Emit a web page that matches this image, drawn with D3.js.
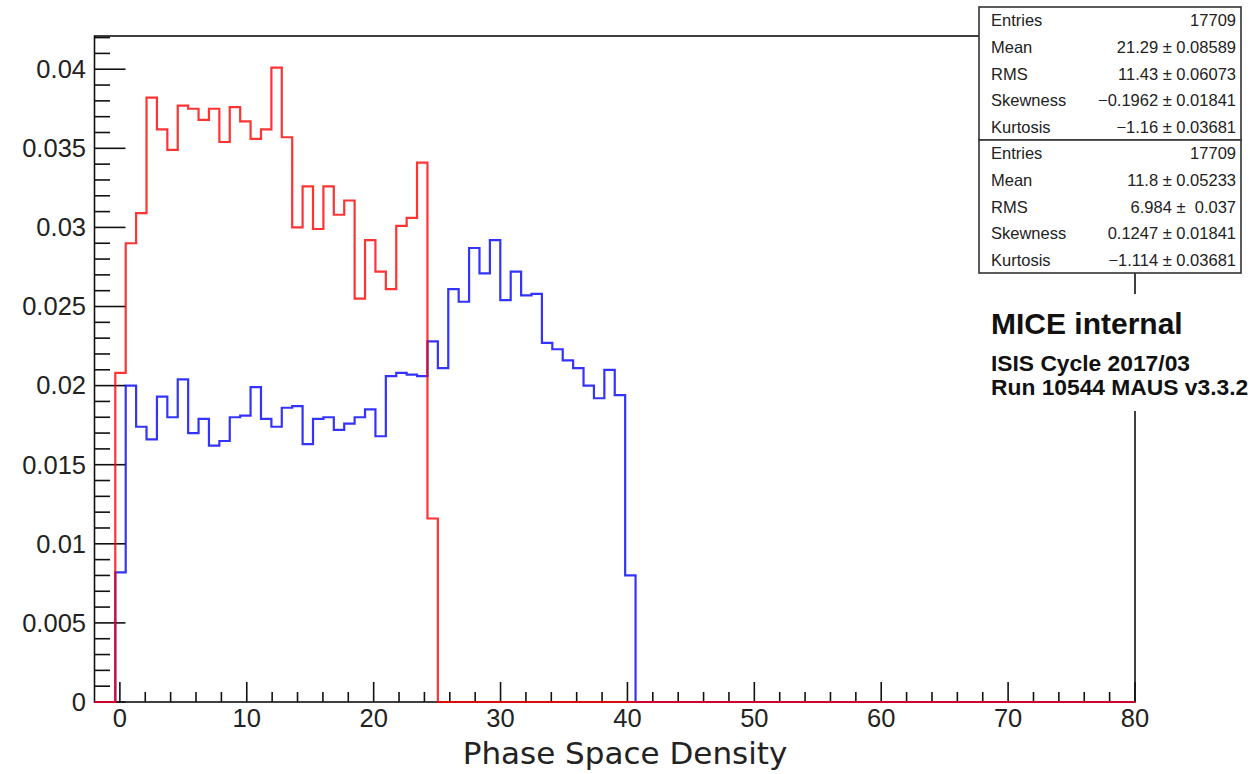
<!DOCTYPE html>
<html>
<head>
<meta charset="utf-8">
<script src="https://cdn.jsdelivr.net/npm/d3@7"></script>
<style>
  html, body { margin: 0; padding: 0; background: #fff; }
  svg { display: block; }
  text { white-space: pre; }
</style>
</head>
<body>
<svg id="chart" width="1254" height="774"></svg>
<script>
// Histogram binning: 100 equal bins over the x range
const xRange = [-2, 80];
const nBins = 100;
const firstFilledBin = 2;      // 0-based index of the first non-empty bin

// Normalised bin contents (from the first filled bin onward)
const densityRed = [
  0.0208, 0.0290, 0.0309, 0.0382, 0.0362, 0.0349, 0.0377, 0.0375, 0.0368, 0.0375,
  0.0354, 0.0376, 0.0367, 0.0356, 0.0362, 0.0401, 0.0357, 0.0300, 0.0326, 0.0299,
  0.0326, 0.0308, 0.0317, 0.0255, 0.0292, 0.0272, 0.0261, 0.0301, 0.0306, 0.0341,
  0.0116
];
const densityBlue = [
  0.0082, 0.0200, 0.0174, 0.0166, 0.0193, 0.0180, 0.0204, 0.0170, 0.0179, 0.0162,
  0.0165, 0.0180, 0.0181, 0.0199, 0.0179, 0.0174, 0.0186, 0.0187, 0.0163, 0.0179,
  0.0180, 0.0172, 0.0176, 0.0180, 0.0185, 0.0168, 0.0206, 0.0208, 0.0207, 0.0206,
  0.0228, 0.0211, 0.0261, 0.0253, 0.0287, 0.0271, 0.0292, 0.0254, 0.0272, 0.0257,
  0.0258, 0.0227, 0.0223, 0.0216, 0.0211, 0.0200, 0.0192, 0.0210, 0.0194, 0.0080
];

const yMax = 0.0421;
const xTickValues = [0, 10, 20, 30, 40, 50, 60, 70, 80];
const xTickLabels = ["0", "10", "20", "30", "40", "50", "60", "70", "80"];
const yTickValues = [0, 0.005, 0.01, 0.015, 0.02, 0.025, 0.03, 0.035, 0.04];
const yTickLabels = ["0", "0.005", "0.01", "0.015", "0.02", "0.025", "0.03", "0.035", "0.04"];
const xAxisTitle = "Phase Space Density";

// Statistics boxes (upper one belongs to the blue histogram)
const statsNames = ["Entries", "Mean", "RMS", "Skewness", "Kurtosis"];
const statsBlue = ["17709", "21.29 \u00b1 0.08589", "11.43 \u00b1 0.06073", "\u22120.1962 \u00b1 0.01841", "\u22121.16 \u00b1 0.03681"];
const statsRed  = ["17709", "11.8 \u00b1 0.05233", "6.984 \u00b1  0.037", "0.1247 \u00b1 0.01841", "\u22121.114 \u00b1 0.03681"];

const labelLines = ["MICE internal", "ISIS Cycle 2017/03", "Run 10544 MAUS v3.3.2"];

// ---------------------------------------------------------------
const svg = d3.select("#chart");
const frame = { left: 94.5, right: 1135, top: 36, bottom: 702 };

const x = d3.scaleLinear().domain(xRange).range([frame.left, frame.right]);
const y = d3.scaleLinear().domain([0, yMax]).range([frame.bottom, frame.top]);

const binWidth = (xRange[1] - xRange[0]) / nBins;

function fullContents(filled) {
  const c = new Array(nBins).fill(0);
  filled.forEach((v, i) => { c[firstFilledBin + i] = v; });
  return c;
}

function histPoints(contents) {
  const pts = [[xRange[0], 0]];
  contents.forEach((v, i) => {
    const lo = xRange[0] + i * binWidth;
    pts.push([lo, v], [lo + binWidth, v]);
  });
  pts.push([xRange[1], 0]);
  return pts;
}

const line = d3.line().x(d => x(d[0])).y(d => y(d[1]));

// frame
svg.append("rect")
  .attr("x", frame.left).attr("y", frame.top)
  .attr("width", frame.right - frame.left).attr("height", frame.bottom - frame.top)
  .attr("fill", "none").attr("stroke", "#111").attr("stroke-width", 1.6);

// x axis ticks
const xMinor = d3.range(0, 80.001, 2);
const ax = svg.append("g").attr("stroke", "#111").attr("stroke-width", 1.6);
ax.selectAll("line.xminor").data(xMinor).join("line")
  .attr("x1", d => x(d)).attr("x2", d => x(d))
  .attr("y1", frame.bottom).attr("y2", d => frame.bottom - (d % 10 === 0 ? 20 : 10));
// y axis ticks
const yMinor = d3.range(0, 42.5).map(i => i * 0.001).filter(v => v <= yMax);
ax.selectAll("line.yminor").data(yMinor).join("line")
  .attr("y1", d => y(d)).attr("y2", d => y(d))
  .attr("x1", frame.left).attr("x2", (d, i) => frame.left + (i % 5 === 0 ? 31 : 15.5));

// tick labels
svg.append("g").selectAll("text").data(xTickValues).join("text")
  .attr("x", d => x(d)).attr("y", frame.bottom + 25)
  .attr("text-anchor", "middle")
  .attr("font-family", "Liberation Sans, Arial, sans-serif").attr("font-size", 25.5)
  .attr("fill", "#222")
  .text((d, i) => xTickLabels[i]);

svg.append("g").selectAll("text").data(yTickValues).join("text")
  .attr("x", 86).attr("y", d => y(d) + 8.8)
  .attr("text-anchor", "end")
  .attr("font-family", "Liberation Sans, Arial, sans-serif").attr("font-size", 25.5)
  .attr("fill", "#222")
  .text((d, i) => yTickLabels[i]);

// axis title
svg.append("text")
  .attr("x", 625).attr("y", 764)
  .attr("text-anchor", "middle")
  .attr("font-family", "DejaVu Sans, sans-serif").attr("font-size", 31)
  .attr("fill", "#222")
  .text(xAxisTitle);

// histograms
svg.append("path").datum(histPoints(fullContents(densityBlue)))
  .attr("d", line).attr("fill", "none").attr("stroke", "#0000ff")
  .attr("stroke-width", 2.2).attr("stroke-opacity", 0.8);
svg.append("path").datum(histPoints(fullContents(densityRed)))
  .attr("d", line).attr("fill", "none").attr("stroke", "#ff0000")
  .attr("stroke-width", 2.2).attr("stroke-opacity", 0.8);

// statistics boxes
const box = { x0: 979, x1: 1241, top: 7, rowH: 26.6 };
[statsBlue, statsRed].forEach((vals, b) => {
  const top = box.top + b * 5 * box.rowH;
  const g = svg.append("g");
  g.append("rect")
    .attr("x", box.x0).attr("y", top)
    .attr("width", box.x1 - box.x0).attr("height", 5 * box.rowH)
    .attr("fill", "#fff").attr("stroke", "#333").attr("stroke-width", 1.6);
  g.selectAll("text.name").data(statsNames).join("text")
    .attr("x", box.x0 + 12).attr("y", (d, i) => top + (i + 0.5) * box.rowH + 6)
    .attr("font-family", "Liberation Sans, Arial, sans-serif").attr("font-size", 16.5)
    .attr("fill", "#222").text(d => d);
  g.selectAll("text.val").data(vals).join("text")
    .attr("x", box.x1 - 5).attr("y", (d, i) => top + (i + 0.5) * box.rowH + 6)
    .attr("text-anchor", "end")
    .attr("font-family", "Liberation Sans, Arial, sans-serif").attr("font-size", 16.5)
    .attr("fill", "#222").text(d => d);
});

// experiment label
svg.append("rect").attr("x", 985).attr("y", 294).attr("width", 265).attr("height", 117)
  .attr("fill", "#fff");
svg.append("text").attr("x", 991).attr("y", 334)
  .attr("font-family", "Liberation Sans, Arial, sans-serif").attr("font-weight", "bold")
  .attr("font-size", 30).attr("fill", "#111").text(labelLines[0]);
svg.append("text").attr("x", 991).attr("y", 371)
  .attr("font-family", "Liberation Sans, Arial, sans-serif").attr("font-weight", "bold")
  .attr("font-size", 22.8).attr("fill", "#111").text(labelLines[1]);
svg.append("text").attr("x", 991).attr("y", 395)
  .attr("font-family", "Liberation Sans, Arial, sans-serif").attr("font-weight", "bold")
  .attr("font-size", 22.8).attr("fill", "#111").text(labelLines[2]);
</script>
</body>
</html>
